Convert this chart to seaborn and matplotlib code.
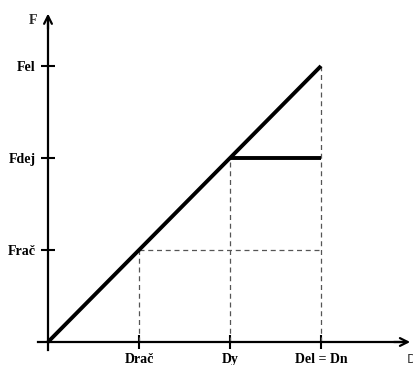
import matplotlib
matplotlib.use("Agg")
import matplotlib.pyplot as plt
import seaborn as sns
import pandas as pd

# Displacement / force levels of the idealised capacity curve
d_ticks = [1, 2, 3]
d_labels = ["Drač", "Dy", "Del = Dn"]
f_ticks = [1, 2, 3]
f_labels = ["Frač", "Fdej", "Fel"]

# Elastic branch and plastic plateau
elastic_d = [0, 3]
elastic_f = [0, 3]
plateau_d = [2, 3]
plateau_f = [2, 2]

# Guide lines: (d, f) of each reference point
guide_d = [1, 2, 3]
guide_f = [1, 2, 3]

sns.set_theme(style="white")
plt.rcParams["font.family"] = ["Liberation Serif", "DejaVu Serif"]

fig = plt.figure(figsize=(4.14, 3.65), dpi=100)
ax = fig.add_axes([0, 0, 1, 1])
ax.set_xlim(-48 / 91, 366 / 91)
ax.set_ylim(-23 / 92, 342 / 92)

elastic = pd.DataFrame({"D": elastic_d, "F": elastic_f})
plateau = pd.DataFrame({"D": plateau_d, "F": plateau_f})
sns.lineplot(data=elastic, x="D", y="F", ax=ax, color="black", lw=2.8,
             solid_capstyle="butt", zorder=4)
sns.lineplot(data=plateau, x="D", y="F", ax=ax, color="black", lw=2.8,
             solid_capstyle="butt", zorder=4)

# Dashed projection lines
dash = dict(color="#555555", lw=0.9, ls=(0, (4, 3)), zorder=2)
for d, f in zip(guide_d, guide_f):
    ax.plot([d, d], [0, f], **dash)
ax.plot([guide_d[0], guide_d[-1]], [guide_f[0], guide_f[0]], **dash)

# Axes through the origin
for side in ["top", "right"]:
    ax.spines[side].set_visible(False)
ax.spines["left"].set_position(("data", 0))
ax.spines["bottom"].set_position(("data", 0))
ax.spines["left"].set_bounds(-0.09, 3.5)
ax.spines["bottom"].set_bounds(-0.11, 3.9)
for side in ["left", "bottom"]:
    ax.spines[side].set_linewidth(1.6)
    ax.spines[side].set_color("black")
    ax.spines[side].set_zorder(3)

ax.annotate("", xy=(0, 3.57), xytext=(0, 3.4),
            arrowprops=dict(arrowstyle="->", lw=1.6, color="black",
                            mutation_scale=14, shrinkA=0, shrinkB=0))
ax.annotate("", xy=(3.98, 0), xytext=(3.8, 0),
            arrowprops=dict(arrowstyle="->", lw=1.6, color="black",
                            mutation_scale=14, shrinkA=0, shrinkB=0))

ax.set_xticks(d_ticks)
ax.set_xticklabels(d_labels, fontweight="bold", fontsize=10)
ax.set_yticks(f_ticks)
ax.set_yticklabels(f_labels, fontweight="bold", fontsize=10)
ax.tick_params(axis="both", direction="inout", length=10, width=1.5,
               colors="black", bottom=True, left=True)
ax.tick_params(axis="x", pad=3)
ax.tick_params(axis="y", pad=4)
ax.set_xlabel("")
ax.set_ylabel("")

ax.text(-0.16, 3.5, "F", fontsize=10, fontweight="bold",
        ha="center", va="center")
ax.text(3.945, -0.19, "D", fontsize=9, color="#333333",
        family="DejaVu Sans", ha="left", va="center")

fig.savefig("out.png", dpi=100)
